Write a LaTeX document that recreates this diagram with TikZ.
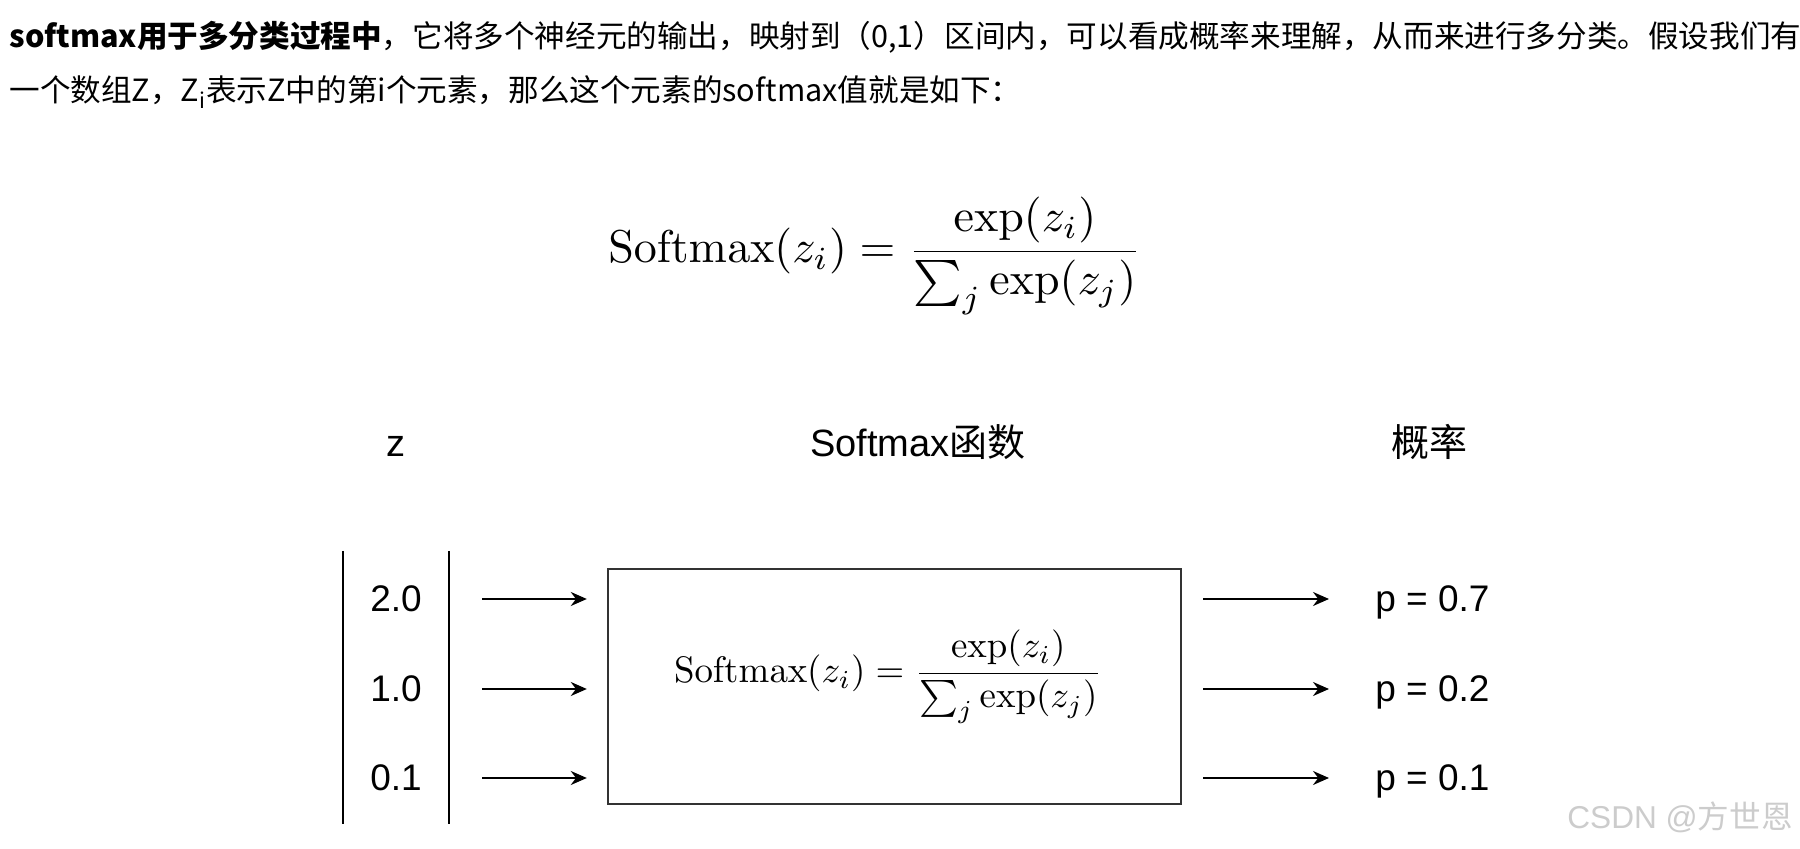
\documentclass[tikz,border=0pt]{standalone}
\usepackage[no-math]{fontspec}
\setmainfont{Noto Sans CJK SC}
\newfontfamily\arialfont{Liberation Sans}
\usepackage{amsmath}
\usetikzlibrary{arrows.meta,positioning}

\begin{document}
\begin{tikzpicture}[x=0.5pt, y=-0.5pt,
  every node/.style={inner sep=0pt},
  bodytext/.style={anchor=west, font=\fontsize{15.3}{18}\selectfont},
  headtext/.style={anchor=base, font=\fontsize{19}{22}\selectfont},
  numtext/.style={font=\fontsize{18.5}{22}\selectfont\arialfont},
  flow/.style={-{Stealth[length=8pt,width=7pt]}, line width=1pt}]
  \fill[white] (0,0) rectangle (1800,849);
  \useasboundingbox (0,0) rectangle (1800,849);

  % explanation above the picture
  \node[bodytext] (line1) at (9,37)
    {\textbf{softmax用于多分类过程中}，它将多个神经元的输出，映射到（0,1）区间内，可以看成概率来理解，从而来进行多分类。假设我们有};
  \node[bodytext] (line2) at (9,92)
    {一个数组Z，Z\textsubscript{i}表示Z中的第i个元素，那么这个元素的softmax值就是如下：};
  \node (formula) at (875,256)
    {\scalebox{2.3}{$\displaystyle \mathrm{Softmax}(z_i) = \frac{\exp(z_i)}{\sum_j \exp(z_j)}$}};

  % column heads
  \node[headtext] (zhead) at (396,457) {\arialfont z};
  \node[headtext] (fnhead) at (918,457) {{\arialfont Softmax}函数};
  \node[headtext] (phead) at (1429,457) {概率};

  % the softmax box
  \node[draw=black!80, line width=1.2pt, minimum width=286.5pt, minimum height=117.5pt] (smbox) at (894.5,686.5) {};
  \node (inner) at (888,677)
    {\scalebox{1.845}{$\displaystyle \mathrm{Softmax}(z_i) = \frac{\exp(z_i)}{\sum_j \exp(z_j)}$}};

  % vector bars
  \draw[line width=1pt] (343,551) -- (343,824);
  \draw[line width=1pt] (449,551) -- (449,824);

  \foreach \v/\p/\r [count=\i] in {2.0/0.7/599, 1.0/0.2/689, 0.1/0.1/778} {
    \coordinate (a\i) at (482,\r);
    \coordinate (b\i) at (1329,\r);
    \node[numtext, anchor=base] (z\i) at (396,\r+13) {\v};
    \node[numtext, anchor=base west] (p\i) at (1375,\r+13) {p = \p};
    \draw[flow, shorten >=10pt] (a\i) -- (a\i -| smbox.west);
    \draw[flow, shorten <=10.5pt] (smbox.east |- b\i) -- (b\i);
  }

  \node[anchor=east, text=gray!40, font=\fontsize{15.8}{18}\selectfont] (mark) at (1793,817)
    {{\arialfont CSDN @}方世恩};
\end{tikzpicture}
\end{document}
